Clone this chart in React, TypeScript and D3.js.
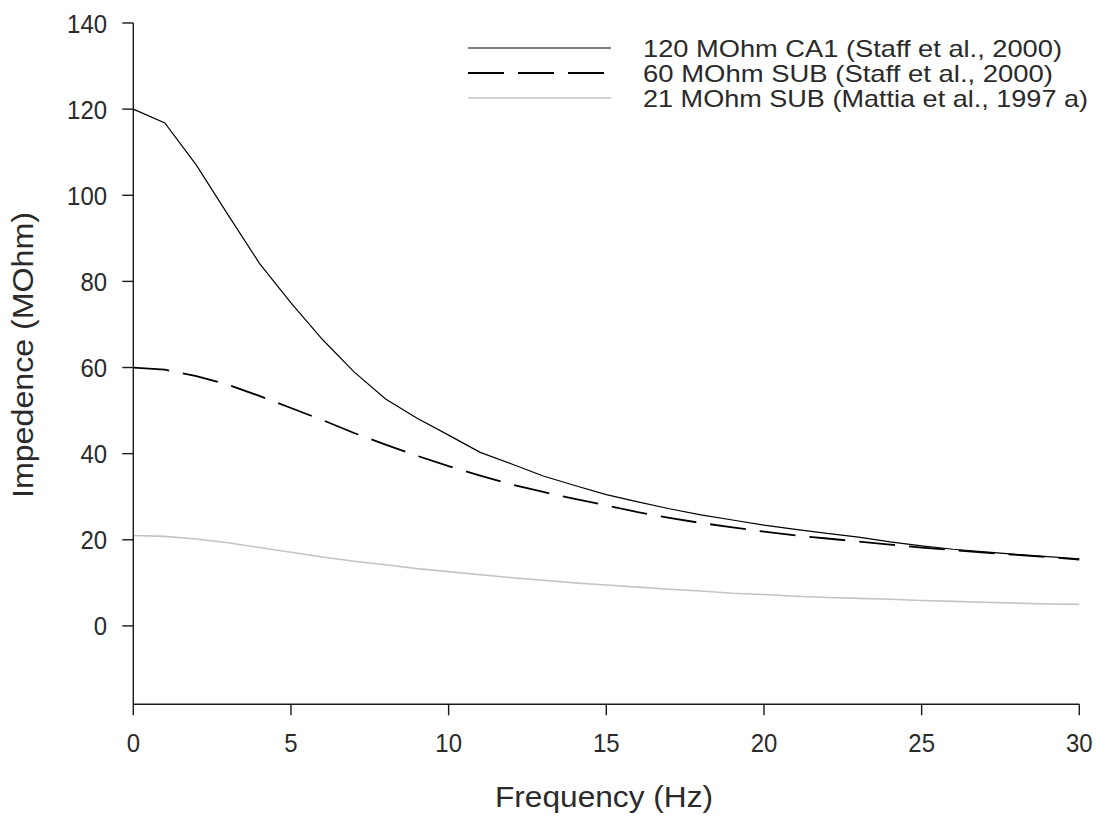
import React from "react";
import * as d3 from "d3";

// ---- data ----
const freq = [0, 1, 2, 3, 4, 5, 6, 7, 8, 9, 10, 11, 12, 13, 14, 15, 16, 17, 18, 19, 20, 21, 22, 23, 24, 25, 26, 27, 28, 29, 30];
const ca1 = [120, 116.8, 107, 95.5, 84.2, 75, 66.5, 59, 52.7, 48.2, 44.3, 40.3, 37.6, 34.8, 32.6, 30.5, 28.8, 27.2, 25.8, 24.6, 23.4, 22.4, 21.5, 20.6, 19.5, 18.6, 17.8, 17.2, 16.6, 16.1, 15.6];
const sub60 = [60, 59.5, 58, 56, 53.4, 50.6, 47.8, 44.8, 42.1, 39.5, 37.1, 34.9, 32.8, 31.1, 29.5, 28.0, 26.4, 25.1, 23.9, 22.9, 21.9, 21.0, 20.3, 19.6, 18.9, 18.2, 17.6, 17.0, 16.5, 16.0, 15.4];
const sub21 = [21, 20.8, 20.2, 19.3, 18.2, 17.1, 16.0, 15.0, 14.2, 13.3, 12.6, 11.9, 11.2, 10.6, 10.0, 9.5, 9.0, 8.5, 8.1, 7.6, 7.3, 6.9, 6.6, 6.4, 6.2, 5.9, 5.7, 5.5, 5.3, 5.1, 5.0];

const xTicks = [0, 5, 10, 15, 20, 25, 30];
const yTicks = [0, 20, 40, 60, 80, 100, 120, 140];
const seriesNames = [
  "120 MOhm CA1 (Staff et al., 2000)",
  "60 MOhm SUB (Staff et al., 2000)",
  "21 MOhm SUB (Mattia et al., 1997 a)",
];
const xTitle = "Frequency (Hz)";
const yTitle = "Impedence (MOhm)";

const W = 1097;
const H = 817;
const FONT = "'Liberation Sans', Arial, sans-serif";

export default function App() {
  const x = d3.scaleLinear().domain([0, 30]).range([133.3, 1079.3]);
  const y = d3.scaleLinear().domain([-18.2, 140]).range([704.3, 23]);

  const mk = (vals: number[]) =>
    d3
      .line<number>()
      .x((_, i) => x(freq[i]))
      .y((v) => y(v))(vals) as string;

  const styles = [
    { stroke: "#000", width: 1.2, dash: undefined as string | undefined },
    { stroke: "#000", width: 1.8, dash: "36,14" },
    { stroke: "#c4c4c4", width: 1.6, dash: undefined as string | undefined },
  ];
  const data = [ca1, sub60, sub21];
  const legendY = [48, 73, 98];
  const legendW = [419, 410, 445];

  const axisColor = "#1a1a1a";
  const x0 = x(0);
  const yBottom = y(-18.2);

  return (
    <svg
      width={W}
      height={H}
      style={{ position: "absolute", left: 0, top: 0, background: "#fff" }}
      fontFamily={FONT}
    >
      <rect x={0} y={0} width={W} height={H} fill="#fff" />

      {/* series */}
      {data.map((d, i) => (
        <path
          key={i}
          d={mk(d)}
          fill="none"
          stroke={styles[i].stroke}
          strokeWidth={styles[i].width}
          strokeDasharray={styles[i].dash}
        />
      ))}

      {/* y axis */}
      <line x1={x0} x2={x0} y1={y(140)} y2={yBottom} stroke={axisColor} strokeWidth={1.4} />
      {yTicks.map((t) => (
        <g key={"yt" + t}>
          <line x1={x0 - 11} x2={x0} y1={y(t)} y2={y(t)} stroke={axisColor} strokeWidth={1.4} />
          <text
            x={107}
            y={y(t) + 9.5}
            textAnchor="end"
            fontSize={26}
            fill="#2a2a2a"
            textLength={String(t).length * 13.3}
            lengthAdjust="spacingAndGlyphs"
          >
            {t}
          </text>
        </g>
      ))}

      {/* x axis */}
      <line x1={x0} x2={x(30)} y1={yBottom} y2={yBottom} stroke={axisColor} strokeWidth={1.4} />
      {xTicks.map((t) => (
        <g key={"xt" + t}>
          <line x1={x(t)} x2={x(t)} y1={yBottom} y2={yBottom + 11} stroke={axisColor} strokeWidth={1.4} />
          <text
            x={x(t)}
            y={752}
            textAnchor="middle"
            fontSize={26}
            fill="#2a2a2a"
            textLength={String(t).length * 13.3}
            lengthAdjust="spacingAndGlyphs"
          >
            {t}
          </text>
        </g>
      ))}

      {/* axis titles */}
      <text
        x={604}
        y={806.5}
        textAnchor="middle"
        fontSize={29}
        fill="#2a2a2a"
        textLength={218}
        lengthAdjust="spacingAndGlyphs"
      >
        {xTitle}
      </text>
      <text
        transform={`translate(33,${(212 + 498) / 2}) rotate(-90)`}
        textAnchor="middle"
        fontSize={29}
        fill="#2a2a2a"
        textLength={286}
        lengthAdjust="spacingAndGlyphs"
      >
        {yTitle}
      </text>

      {/* legend */}
      {seriesNames.map((name, i) => (
        <g key={"lg" + i}>
          <line
            x1={468}
            x2={611}
            y1={legendY[i]}
            y2={legendY[i]}
            stroke={styles[i].stroke}
            strokeWidth={styles[i].width}
            strokeDasharray={styles[i].dash}
          />
          <text
            x={643}
            y={legendY[i] + 8.5}
            fontSize={24}
            fill="#2a2a2a"
            textLength={legendW[i]}
            lengthAdjust="spacingAndGlyphs"
          >
            {name}
          </text>
        </g>
      ))}
    </svg>
  );
}
